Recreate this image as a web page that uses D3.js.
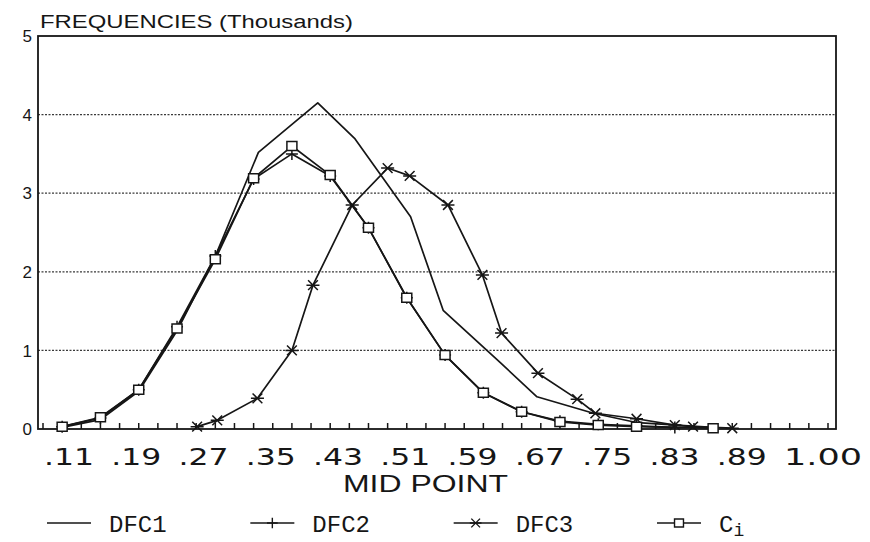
<!DOCTYPE html>
<html>
<head>
  <meta charset="utf-8">
  <title>Frequencies by mid point</title>
  <script src="https://d3js.org/d3.v7.min.js"></script>
  <style>
    body { margin: 0; background: #fff; }
  </style>
</head>
<body>
<svg width="870" height="542" id="graph"></svg>
<script>

// ---- data ----
var xTickLabels = [".11", ".19", ".27", ".35", ".43", ".51", ".59", ".67", ".75", ".83", ".89", "1.00"];
var yTicks = [0, 1, 2, 3, 4, 5];
var seriesNames = ["DFC1", "DFC2", "DFC3", "Ci"];

// DFC1 - plain line
var dfc1X = [0.11, 0.15, 0.19, 0.23, 0.27, 0.315, 0.377, 0.416, 0.474, 0.508, 0.568, 0.606, 0.665, 0.711, 0.789];
var dfc1Y = [0.02, 0.12, 0.48, 1.25, 2.20, 3.52, 4.15, 3.69, 2.70, 1.51, 0.84, 0.41, 0.20, 0.08, 0.02];

// DFC2 - plus markers
var dfc2X = [0.11, 0.15, 0.19, 0.23, 0.27, 0.31, 0.35, 0.39, 0.43, 0.47, 0.51, 0.55, 0.59, 0.63, 0.67, 0.71, 0.75];
var dfc2Y = [0.03, 0.14, 0.50, 1.30, 2.20, 3.18, 3.50, 3.22, 2.56, 1.67, 0.94, 0.46, 0.22, 0.10, 0.06, 0.04, 0.02];

// DFC3 - asterisk markers
var dfc3X = [0.251, 0.272, 0.314, 0.350, 0.372, 0.413, 0.450, 0.473, 0.513, 0.549, 0.569, 0.607, 0.648, 0.667, 0.710, 0.750, 0.769, 0.810];
var dfc3Y = [0.03, 0.11, 0.39, 1.00, 1.83, 2.85, 3.32, 3.22, 2.85, 1.96, 1.22, 0.71, 0.38, 0.20, 0.13, 0.05, 0.03, 0.01];

// Ci - square markers
var ciX = [0.11, 0.15, 0.19, 0.23, 0.27, 0.31, 0.35, 0.39, 0.43, 0.47, 0.51, 0.55, 0.59, 0.63, 0.67, 0.71, 0.79];
var ciY = [0.03, 0.15, 0.50, 1.28, 2.16, 3.19, 3.60, 3.23, 2.56, 1.67, 0.94, 0.46, 0.22, 0.09, 0.05, 0.03, 0.01];

// ---- layout ----
var plotLeft = 38, plotRight = 836, plotTop = 36, plotBottom = 429;
var ink = "#161616";

var x = d3.scaleLinear().domain([0.09, 0.91]).range([43, 828]);
var y = d3.scaleLinear().domain([0, 5]).range([plotBottom, plotTop]);

// typed labels under the axis are evenly spaced, not tied to the data
var xLab = d3.scalePoint().domain(xTickLabels).range([44, 784]);
var legendX = d3.scalePoint().domain(seriesNames).range([47, 657]);

var svg = d3.select("#graph");

// marker shapes
var plusSym = { draw: function(ctx, size) {
  var r = Math.sqrt(size) / 2;
  ctx.moveTo(-r, 0); ctx.lineTo(r, 0);
  ctx.moveTo(0, -r); ctx.lineTo(0, r);
}};
var starSym = { draw: function(ctx, size) {
  var r = Math.sqrt(size) / 2, k = r * 0.75;
  ctx.moveTo(-r, 0); ctx.lineTo(r, 0);
  ctx.moveTo(-k, -k); ctx.lineTo(k, k);
  ctx.moveTo(-k, k); ctx.lineTo(k, -k);
}};
var squareSym = { draw: function(ctx, size) {
  var r = Math.sqrt(size) / 2;
  ctx.rect(-r, -r * 0.9, 2 * r, 1.8 * r);
}};

var series = [
  { name: "DFC1", xs: dfc1X, ys: dfc1Y, sym: null, size: 0 },
  { name: "DFC2", xs: dfc2X, ys: dfc2Y, sym: plusSym, size: 144 },
  { name: "DFC3", xs: dfc3X, ys: dfc3Y, sym: starSym, size: 170 },
  { name: "Ci",   xs: ciX,   ys: ciY,   sym: squareSym, size: 100 }
];

// dotted gridlines
svg.append("g")
  .selectAll("line")
  .data(yTicks.filter(function(d) { return d > 0 && d < 5; }))
  .enter().append("line")
    .attr("x1", plotLeft).attr("x2", plotRight)
    .attr("y1", function(d) { return y(d); })
    .attr("y2", function(d) { return y(d); })
    .attr("stroke", "#3a3a3a")
    .attr("stroke-width", 1.3)
    .attr("stroke-dasharray", "2,1.5");

// frame
svg.append("rect")
  .attr("x", plotLeft).attr("y", y(5))
  .attr("width", plotRight - plotLeft)
  .attr("height", y(0) - y(5))
  .attr("fill", "none")
  .attr("stroke", ink)
  .attr("stroke-width", 1.8);

// small upward ticks on the x axis, every 0.02
svg.append("g")
  .selectAll("line")
  .data(d3.range(0, 42).map(function(i) { return 0.09 + i * 0.02; }))
  .enter().append("line")
    .attr("x1", function(d) { return x(d); })
    .attr("x2", function(d) { return x(d); })
    .attr("y1", y(0)).attr("y2", y(0) - 6)
    .attr("stroke", ink)
    .attr("stroke-width", 1.5);

// y labels
svg.append("g")
  .selectAll("text")
  .data(yTicks)
  .enter().append("text")
    .attr("x", 32)
    .attr("y", function(d) { return y(d); })
    .attr("dy", "0.36em")
    .attr("text-anchor", "end")
    .attr("font-family", "Liberation Sans, Arial, sans-serif")
    .attr("font-size", "17px")
    .attr("fill", ink)
    .text(function(d) { return d; });

// x labels (wide typewriter digits)
svg.append("g")
  .selectAll("text")
  .data(xTickLabels)
  .enter().append("text")
    .attr("x", function(d) { return xLab(d); })
    .attr("y", 465)
    .attr("font-family", "DejaVu Sans, sans-serif")
    .attr("font-size", "23px")
    .attr("fill", ink)
    .attr("textLength", function(d) { return d.length === 3 ? 50 : 78; })
    .attr("lengthAdjust", "spacingAndGlyphs")
    .text(function(d) { return d; });

// titles
svg.append("text")
  .attr("x", 40).attr("y", 28)
  .attr("font-family", "Liberation Sans, Arial, sans-serif")
  .attr("font-size", "18px")
  .attr("fill", ink)
  .attr("textLength", 313)
  .attr("lengthAdjust", "spacingAndGlyphs")
  .text("FREQUENCIES (Thousands)");

svg.append("text")
  .attr("x", 343).attr("y", 492)
  .attr("font-family", "Liberation Sans, Arial, sans-serif")
  .attr("font-size", "24px")
  .attr("fill", ink)
  .attr("textLength", 165)
  .attr("lengthAdjust", "spacingAndGlyphs")
  .text("MID POINT");

// lines
var line = d3.line()
  .x(function(d) { return x(d[0]); })
  .y(function(d) { return y(d[1]); });

series.forEach(function(s) {
  var pts = s.xs.map(function(v, i) { return [v, s.ys[i]]; });
  svg.append("path")
    .datum(pts)
    .attr("d", line)
    .attr("fill", "none")
    .attr("stroke", ink)
    .attr("stroke-width", 1.7)
    .attr("stroke-linejoin", "round");

  if (s.sym) {
    svg.append("g")
      .selectAll("path")
      .data(pts)
      .enter().append("path")
        .attr("transform", function(d) { return "translate(" + x(d[0]) + "," + y(d[1]) + ")"; })
        .attr("d", d3.symbol().type(s.sym).size(s.size))
        .attr("fill", s.sym === squareSym ? "#fff" : "none")
        .attr("stroke", ink)
        .attr("stroke-width", 1.5);
  }
});

// legend
var legend = svg.append("g")
  .selectAll("g")
  .data(series)
  .enter().append("g")
    .attr("transform", function(d) { return "translate(" + legendX(d.name) + ",523)"; });

legend.append("line")
  .attr("x1", 0).attr("x2", 44)
  .attr("stroke", ink)
  .attr("stroke-width", 1.6);

legend.filter(function(d) { return d.sym; })
  .append("path")
    .attr("transform", "translate(22,0)")
    .attr("d", function(d) { return d3.symbol().type(d.sym).size(d.size * 0.8)(); })
    .attr("fill", function(d) { return d.sym === squareSym ? "#fff" : "none"; })
    .attr("stroke", ink)
    .attr("stroke-width", 1.4);

var legendText = legend.append("text")
  .attr("x", 62).attr("y", 9)
  .attr("font-family", "Liberation Mono, DejaVu Sans Mono, monospace")
  .attr("font-size", "24px")
  .attr("fill", ink);

legendText.filter(function(d) { return d.name !== "Ci"; })
  .text(function(d) { return d.name; });

var ciText = legendText.filter(function(d) { return d.name === "Ci"; });
ciText.append("tspan").text("C");
ciText.append("tspan").attr("dy", 4).attr("font-size", "18px").text("i");

</script>
</body>
</html>
